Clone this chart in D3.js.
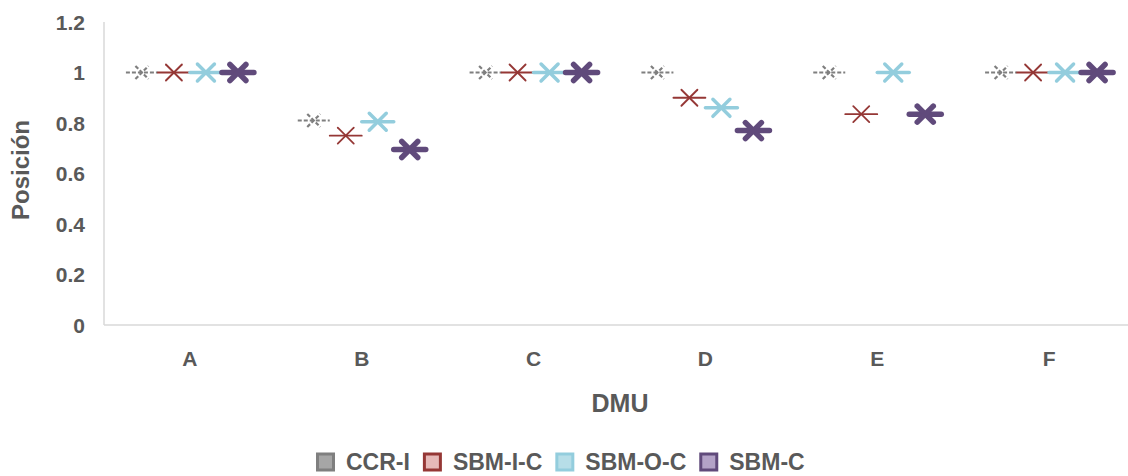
<!DOCTYPE html>
<html><head><meta charset="utf-8">
<script src="https://cdn.jsdelivr.net/npm/d3@7"></script>
<style>body{margin:0;background:#fff}svg text{font-family:"Liberation Sans",Arial,sans-serif;font-weight:bold;fill:#595959}</style>
</head><body><svg id="c" width="1128" height="476"></svg>
<script>
(function(){
const categories = ["A","B","C","D","E","F"];
const seriesNames = ["CCR-I","SBM-I-C","SBM-O-C","SBM-C"];
const ccrI   = [1, 0.81, 1, 1, 1, 1];
const sbmIC  = [1, 0.75, 1, 0.90, 0.835, 1];
const sbmOC  = [1, 0.805, 1, 0.86, 1, 1];
const sbmC   = [1, 0.695, 1, 0.77, 0.835, 1];
const yTicks = [0, 0.2, 0.4, 0.6, 0.8, 1, 1.2];
const yTickLabels = ["0","0.2","0.4","0.6","0.8","1","1.2"];

const seriesValues = [ccrI, sbmIC, sbmOC, sbmC];
const styles = [
  {stroke:"#7f7f7f", fill:"#a6a6a6", w:2.2, r:6.5, dash:"4,2"},
  {stroke:"#953735", fill:"#e6b9b8", w:1.8, r:8, dash:null},
  {stroke:"#93cddd", fill:"#b7dee8", w:3.5, r:8.5, dash:null},
  {stroke:"#604a7b", fill:"#b3a2c7", w:5.5, r:8, dash:null}
];

const svg = d3.select("#c");
const pLeft = 104, pRight = 1135, pTop = 22, pBottom = 325;
const x = d3.scaleBand().domain(categories).range([pLeft, pRight]).padding(0);
const xs = d3.scaleBand().domain(seriesNames).range([-64, 64]).padding(0);
const y = d3.scaleLinear().domain([0, 1.2]).range([pBottom, pTop]);

svg.append("line").attr("x1",pLeft).attr("x2",pLeft).attr("y1",y(1.2)).attr("y2",pBottom)
  .attr("stroke","#d9d9d9").attr("stroke-width",1.5);
svg.append("line").attr("x1",pLeft).attr("x2",pRight).attr("y1",pBottom).attr("y2",pBottom)
  .attr("stroke","#d9d9d9").attr("stroke-width",1.5);

svg.selectAll(".yt").data(yTicks).enter().append("text")
  .attr("x", 85).attr("y", d => y(d)).attr("dy","0.36em")
  .attr("text-anchor","end").style("font-size","21px")
  .text((d,i) => yTickLabels[i]);

svg.selectAll(".xt").data(categories).enter().append("text")
  .attr("x", d => x(d) + x.bandwidth()/2).attr("y", 358).attr("dy","0.36em")
  .attr("text-anchor","middle").style("font-size","21px").text(d => d);

svg.append("text").attr("transform","translate(29,170) rotate(-90)")
  .attr("text-anchor","middle").style("font-size","24px").text("Posición");
svg.append("text").attr("x",620).attr("y",412).attr("text-anchor","middle")
  .style("font-size","25px").text("DMU");

seriesNames.forEach((s, si) => {
  const st = styles[si];
  const g = svg.append("g");
  const pts = g.selectAll("g").data(seriesValues[si]).enter().append("g")
    .attr("transform",(d,i) => `translate(${x(categories[i]) + x.bandwidth()/2 + xs(s) + xs.bandwidth()/2},${y(d)})`);
  const hw = xs.bandwidth()/2;
  const segs = [[-hw,0,hw,0],[-st.r,-st.r,st.r,st.r],[-st.r,st.r,st.r,-st.r]];
  segs.forEach(sg => {
    pts.append("line").attr("x1",sg[0]).attr("y1",sg[1]).attr("x2",sg[2]).attr("y2",sg[3])
      .attr("stroke",st.stroke).attr("stroke-width",st.w)
      .attr("stroke-linecap", st.dash ? "butt" : "round")
      .attr("stroke-dasharray", st.dash);
  });
});

const lg = svg.append("g");
let cx = 0;
seriesNames.forEach((s, si) => {
  const st = styles[si];
  const it = lg.append("g").attr("transform",`translate(${cx},0)`);
  it.append("rect").attr("x",1.5).attr("y",-8).attr("width",16).attr("height",16)
    .attr("fill",st.fill).attr("stroke",st.stroke).attr("stroke-width",3);
  const t = it.append("text").attr("x",30).attr("y",0).attr("dy","0.36em")
    .style("font-size","23px").text(s);
  cx += 30 + t.node().getComputedTextLength() + 13;
});
lg.attr("transform",`translate(${316},462)`);
})();
</script></body></html>
